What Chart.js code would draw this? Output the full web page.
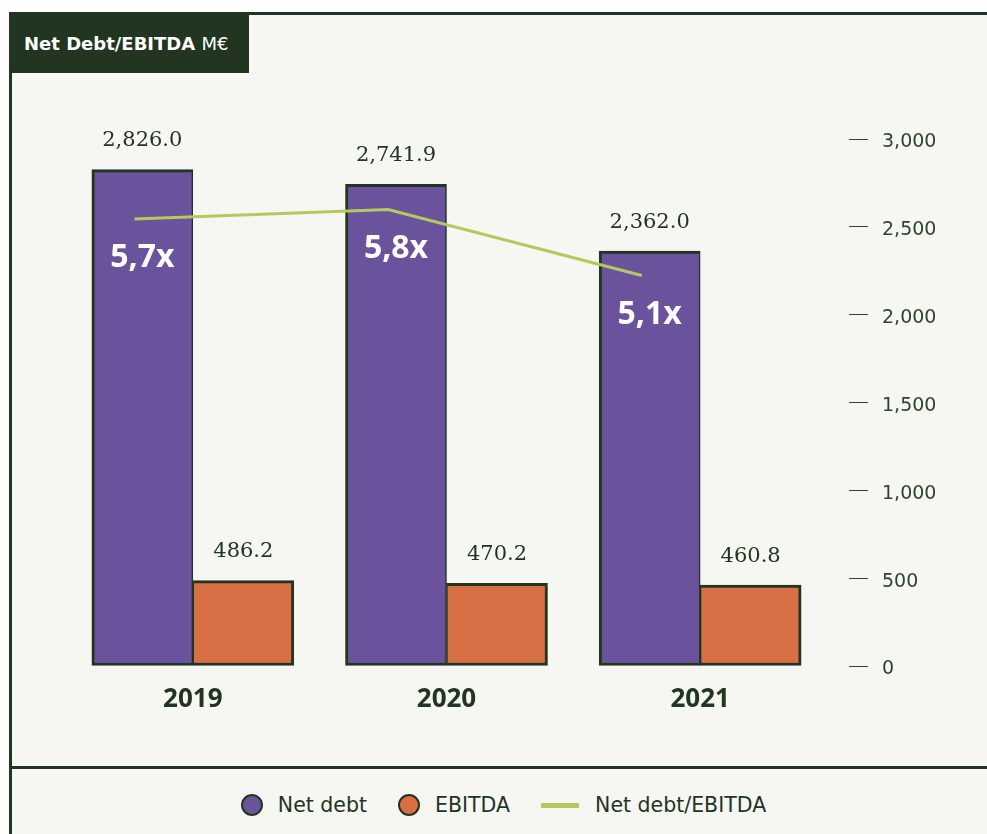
<!DOCTYPE html>
<html>
<head>
<meta charset="utf-8">
<title>Net Debt/EBITDA</title>
<script src="https://cdn.jsdelivr.net/npm/chart.js@4.4.0/dist/chart.umd.min.js"></script>
<style>
    html, body { margin: 0; padding: 0; background: #fff; }
    body { width: 987px; height: 834px; position: relative; overflow: hidden; }
    #frame {
        position: absolute; left: 9px; top: 12px; width: 990px; height: 830px;
        background: #f6f6f3; border-left: 3px solid #213520; border-top: 3px solid #213520;
    }
    #title {
        position: absolute; left: 9px; top: 14px; width: 240px; height: 59px;
        background: #213520; color: #fff; box-sizing: border-box; padding-left: 15px;
        font: bold 18px "DejaVu Sans", sans-serif; line-height: 59px; white-space: nowrap;
    }
    #title span { font-weight: normal; }
    #chartBox { position: absolute; left: 12px; top: 15px; width: 975px; height: 751px; }
    #separator { position: absolute; left: 9px; top: 766px; width: 980px; height: 3px; background: #213520; }
    #legend {
        position: absolute; left: 12px; right: 0; top: 772px; height: 66px; padding-left: 8px;
        display: flex; justify-content: center; align-items: center;
        font: 20.5px "DejaVu Sans", sans-serif; color: #213520;
    }
    .legend-item { display: flex; align-items: center; margin: 0 15.5px; }
    .legend-dot { width: 22px; height: 22px; border-radius: 50%; box-sizing: border-box; border: 2.5px solid #213520; margin-right: 15px; }
    .legend-line { width: 38px; height: 5px; margin-right: 16px; }
</style>
</head>
<body>
<div id="frame"></div>
<div id="title">Net Debt/EBITDA <span>M€</span></div>
<div id="chartBox"><canvas id="netDebtChart" width="975" height="751"></canvas></div>
<div id="separator"></div>
<div id="legend"></div>

<script>
const years = ['2019', '2020', '2021'];
const netDebt = [2826.0, 2741.9, 2362.0];
const ebitda = [486.2, 470.2, 460.8];
const ratio = [5.7, 5.8, 5.1];
const yTicks = [0, 500, 1000, 1500, 2000, 2500, 3000];

const DARK = '#213520';
const PURPLE = '#6a529c';
const ORANGE = '#d96f45';
const GREEN = '#b4c95c';

// ratio line sits a little left of the net debt bar centre
const LINE_SHIFT = -0.23;

const fmtValue = v => v.toLocaleString('en-US', { minimumFractionDigits: 1, maximumFractionDigits: 1 });
const fmtRatio = v => v.toFixed(1).replace('.', ',') + 'x';

// value labels above bars + ratio labels inside the net debt bars
const labelPlugin = {
    id: 'barLabels',
    afterDatasetsDraw(chart) {
        const ctx = chart.ctx;
        ctx.save();
        ctx.textAlign = 'center';
        ctx.textBaseline = 'middle';

        ctx.font = '21px "DejaVu Serif", serif';
        ctx.fillStyle = DARK;
        [1, 2].forEach(idx => {
            const meta = chart.getDatasetMeta(idx);
            const values = chart.data.datasets[idx].data;
            meta.data.forEach((bar, i) => {
                ctx.fillText(fmtValue(values[i]), bar.x, bar.y - 29);
            });
        });

        const lineMeta = chart.getDatasetMeta(0);
        const debtMeta = chart.getDatasetMeta(1);
        ctx.font = 'bold 32px "Open Sans", sans-serif';
        ctx.fillStyle = '#ffffff';
        lineMeta.data.forEach((pt, i) => {
            ctx.fillText(fmtRatio(ratio[i]), debtMeta.data[i].x, pt.y + 39);
        });
        ctx.restore();
    }
};

function renderLegend(chart) {
    const box = document.getElementById('legend');
    box.innerHTML = '';
    chart.data.datasets.slice(1).concat(chart.data.datasets[0]).forEach(ds => {
        const item = document.createElement('div');
        item.className = 'legend-item';
        const mark = document.createElement('span');
        if (ds.type === 'line') {
            mark.className = 'legend-line';
            mark.style.background = ds.borderColor;
        } else {
            mark.className = 'legend-dot';
            mark.style.background = ds.backgroundColor;
        }
        const text = document.createElement('span');
        text.textContent = ds.label;
        item.appendChild(mark);
        item.appendChild(text);
        box.appendChild(item);
    });
}

const ctx = document.getElementById('netDebtChart').getContext('2d');

const chart = new Chart(ctx, {
    data: {
        labels: years,
        datasets: [
            {
                type: 'line',
                label: 'Net debt/EBITDA',
                data: ratio.map((r, i) => ({ x: i + LINE_SHIFT, y: r })),
                xAxisID: 'xl',
                yAxisID: 'yr',
                borderColor: GREEN,
                borderWidth: 3,
                pointRadius: 0,
                tension: 0,
                order: -1
            },
            {
                type: 'bar',
                label: 'Net debt',
                data: netDebt,
                backgroundColor: PURPLE,
                borderColor: DARK,
                borderWidth: { top: 3, left: 3, bottom: 3, right: 1.5 },
                borderSkipped: false,
                barThickness: 101
            },
            {
                type: 'bar',
                label: 'EBITDA',
                data: ebitda,
                backgroundColor: ORANGE,
                borderColor: DARK,
                borderWidth: { top: 3, left: 1.5, bottom: 3, right: 3 },
                borderSkipped: false,
                barThickness: 101
            }
        ]
    },
    options: {
        responsive: false,
        animation: false,
        layout: { padding: { left: 54, top: 124, right: 0, bottom: 0 } },
        scales: {
            x: {
                type: 'category',
                grid: { display: false, drawTicks: false },
                border: { display: false },
                ticks: {
                    padding: 18,
                    color: DARK,
                    font: { family: '"Open Sans", sans-serif', size: 26, weight: 'bold' }
                },
                afterFit: s => { s.height = 100; }
            },
            xl: {
                type: 'linear',
                display: false,
                min: -0.5,
                max: 2.5
            },
            y: {
                position: 'right',
                min: 0,
                max: 3000,
                afterBuildTicks: s => { s.ticks = yTicks.map(v => ({ value: v })); },
                grid: {
                    drawOnChartArea: false,
                    drawTicks: true,
                    tickLength: 41,
                    tickWidth: 1.2,
                    tickColor: '#2d4430',
                    tickBorderDash: [0, 22, 19, 200]
                },
                border: { display: false },
                ticks: {
                    padding: 14,
                    labelOffset: 3.5,
                    color: '#2d4430',
                    font: { family: '"DejaVu Sans", sans-serif', size: 19 },
                    callback: v => v.toLocaleString('en-US')
                },
                afterFit: s => { s.width = 160; }
            },
            yr: {
                type: 'linear',
                display: false,
                min: 0.95,
                max: 6.55
            }
        },
        plugins: {
            legend: { display: false },
            tooltip: { enabled: false }
        }
    },
    plugins: [labelPlugin]
});

renderLegend(chart);
</script>
</body>
</html>
